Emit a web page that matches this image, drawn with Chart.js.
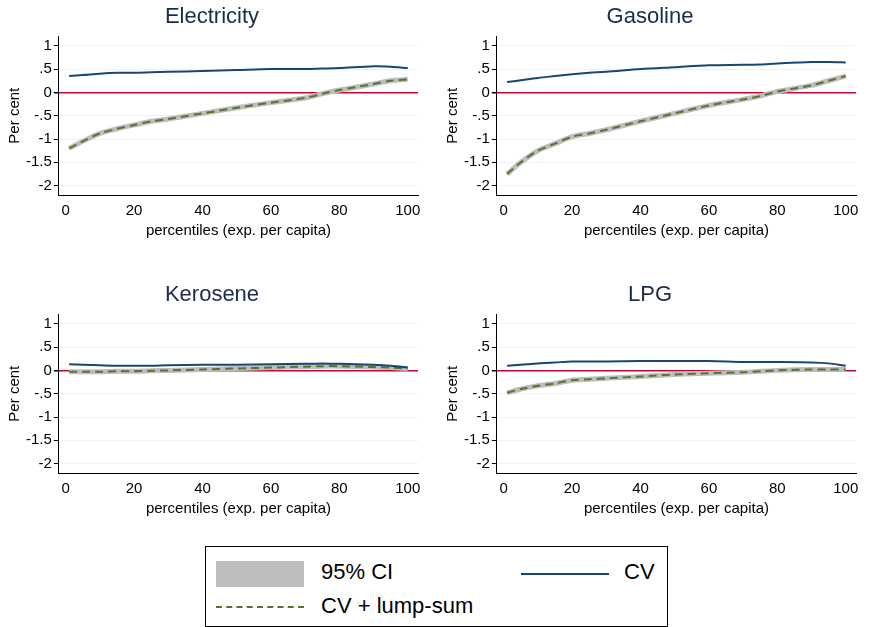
<html>
<head>
<script src="https://cdn.jsdelivr.net/npm/chart.js"></script>
<style>
body{margin:0;background:#fff;font-family:"Liberation Sans",Arial,sans-serif;}
.p{position:absolute;width:438px;height:240px;}
#leg{position:absolute;left:205px;top:546px;width:461px;height:79px;border:1px solid #000;font-size:22px;color:#000;}
</style>
</head>
<body>
<div class="p" style="left:0;top:0"><canvas id="c0"></canvas></div>
<div class="p" style="left:438px;top:0"><canvas id="c1"></canvas></div>
<div class="p" style="left:0;top:278px"><canvas id="c2"></canvas></div>
<div class="p" style="left:438px;top:278px"><canvas id="c3"></canvas></div>
<div id="leg">
  <div style="position:absolute;left:10px;top:14px;width:88px;height:26px;background:#bdbdbd"></div>
  <div style="position:absolute;left:115px;top:12px">95% CI</div>
  <div style="position:absolute;left:315px;top:26px;width:88px;border-top:2px solid #1a476f"></div>
  <div style="position:absolute;left:418px;top:12px">CV</div>
  <div style="position:absolute;left:10px;top:59px;width:88px;border-top:2px dashed #55752f"></div>
  <div style="position:absolute;left:115px;top:46px">CV + lump-sum</div>
</div>
<script>
var titles = ["Electricity", "Gasoline", "Kerosene", "LPG"];
var pct = [1, 5, 10, 15, 20, 25, 30, 40, 50, 60, 70, 75, 80, 90, 95, 100];
var cvElec  = [0.35, 0.37, 0.40, 0.42, 0.42, 0.43, 0.44, 0.46, 0.48, 0.50, 0.50, 0.51, 0.52, 0.56, 0.55, 0.52];
var lumpElec = [-1.20, -1.05, -0.88, -0.78, -0.70, -0.62, -0.57, -0.45, -0.33, -0.22, -0.12, -0.03, 0.05, 0.18, 0.25, 0.28];
var cvGas   = [0.22, 0.26, 0.31, 0.35, 0.39, 0.42, 0.44, 0.50, 0.54, 0.58, 0.59, 0.60, 0.62, 0.65, 0.65, 0.64];
var lumpGas = [-1.75, -1.50, -1.25, -1.10, -0.95, -0.88, -0.80, -0.62, -0.45, -0.28, -0.15, -0.08, 0.02, 0.15, 0.25, 0.35];
var cvKer   = [0.13, 0.12, 0.11, 0.10, 0.10, 0.10, 0.11, 0.12, 0.12, 0.13, 0.14, 0.15, 0.14, 0.12, 0.10, 0.06];
var lumpKer = [-0.03, -0.03, -0.03, -0.02, -0.02, -0.01, 0.00, 0.02, 0.04, 0.06, 0.08, 0.09, 0.09, 0.07, 0.06, 0.04];
var cvLpg   = [0.10, 0.12, 0.15, 0.17, 0.19, 0.19, 0.19, 0.20, 0.20, 0.20, 0.18, 0.18, 0.18, 0.17, 0.15, 0.10];
var lumpLpg = [-0.48, -0.40, -0.33, -0.28, -0.21, -0.19, -0.17, -0.13, -0.09, -0.06, -0.04, -0.02, 0.00, 0.02, 0.02, 0.02];
var cvs = [cvElec, cvGas, cvKer, cvLpg];
var lumps = [lumpElec, lumpGas, lumpKer, lumpLpg];
var yTicks = [1, 0.5, 0, -0.5, -1, -1.5, -2];
var xTicks = [0, 20, 40, 60, 80, 100];

function pts(arr){ return pct.map((p,i)=>({x:p, y:arr[i]})); }
function lab(v){ var s = String(v); return s.replace(/^0\./,'.').replace(/^-0\./,'-.'); }

titles.forEach((t,k)=>{
  new Chart(document.getElementById('c'+k), {
    type: 'line',
    data: { datasets: [
      {data: pts(lumps[k]), borderColor:'#bdbdbd', borderWidth:5, pointRadius:0, tension:0.3, order:3},
      {data: pts(lumps[k]), borderColor:'#55752f', borderWidth:2, borderDash:[8,5], pointRadius:0, tension:0.3, order:2},
      {data: pts(cvs[k]), borderColor:'#1a476f', borderWidth:2, pointRadius:0, tension:0.3, order:1}
    ]},
    options: {
      animation:false, responsive:true, maintainAspectRatio:false,
      layout:{padding:{right:20,left:6}},
      plugins:{legend:{display:false}, tooltip:{enabled:false},
        title:{display:true, text:t, color:'#1a2b4c', font:{size:22, family:'Liberation Sans', weight:'normal'}, padding:{top:4,bottom:6}}},
      scales:{
        x:{type:'linear', min:-2, max:103,
          afterBuildTicks: a=>{a.ticks = xTicks.map(v=>({value:v}));},
          grid:{display:false, drawTicks:true, tickLength:5, tickColor:'#000'},
          border:{color:'#000'},
          ticks:{color:'#000', font:{size:15, family:'Liberation Sans'}, padding:2},
          title:{display:true, text:'percentiles (exp. per capita)', color:'#000', font:{size:15, family:'Liberation Sans'}, padding:0}},
        y:{min:-2.2, max:1.2,
          afterBuildTicks: a=>{a.ticks = yTicks.map(v=>({value:v}));},
          grid:{color: c=> c.tick && c.tick.value===0 ? '#c10534' : '#eaf2f3', lineWidth: c=> c.tick && c.tick.value===0 ? 1.5 : 1, tickColor:'#000', tickLength:5},
          border:{color:'#000'},
          ticks:{color:'#000', font:{size:15, family:'Liberation Sans'}, padding:2, callback:v=>lab(v)},
          title:{display:true, text:'Per cent', color:'#000', font:{size:15, family:'Liberation Sans'}, padding:0}}
      }
    }
  });
});
</script>
</body>
</html>
